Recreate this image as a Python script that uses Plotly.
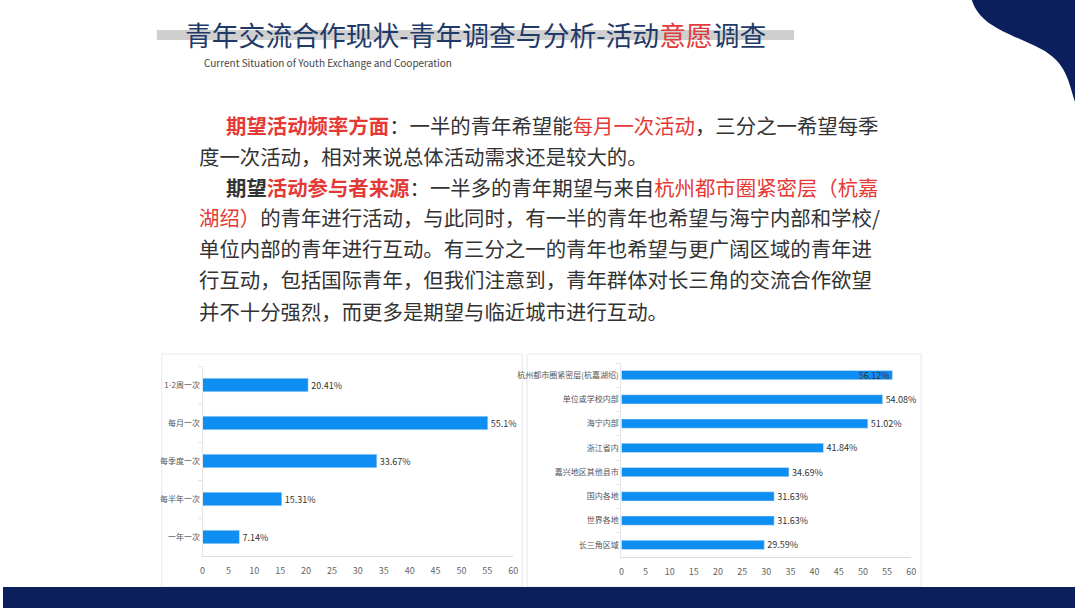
import plotly.graph_objects as go

# left chart: expected activity frequency
freq_labels = ['1-2周一次', '每月一次', '每季度一次', '每半年一次', '一年一次']
freq_values = [20.41, 55.1, 33.67, 15.31, 7.14]

# right chart: expected participant sources
src_labels = ['杭州都市圈紧密层(杭嘉湖绍)', '单位或学校内部', '海宁内部', '浙江省内',
              '嘉兴地区其他县市', '国内各地', '世界各地', '长三角区域']
src_values = [56.12, 54.08, 51.02, 41.84, 34.69, 31.63, 31.63, 29.59]

x_ticks = [0, 5, 10, 15, 20, 25, 30, 35, 40, 45, 50, 55, 60]

W, H = 1080, 608
FONT = 'Noto Sans CJK SC'
BAR = '#0f8ef2'
NAVY = '#0b1f5c'
RED = '#e53935'


def px(x):
    return x / W


def py(y):
    return 1 - y / H


fig = go.Figure()

fig.add_trace(go.Bar(
    y=freq_labels, x=freq_values, orientation='h', width=0.36,
    marker=dict(color=BAR), text=[f'{v}%' for v in freq_values],
    textposition='outside', constraintext='none',
    textfont=dict(size=9, color='#333333', family=FONT),
    cliponaxis=False, xaxis='x', yaxis='y', hoverinfo='skip'))

src_pos = ['inside'] + ['outside'] * (len(src_values) - 1)
fig.add_trace(go.Bar(
    y=src_labels, x=src_values, orientation='h', width=0.38,
    marker=dict(color=BAR), text=[f'{v}%' for v in src_values],
    textposition=src_pos, insidetextanchor='end', constraintext='none',
    insidetextfont=dict(size=9, color='#333333', family=FONT),
    outsidetextfont=dict(size=9, color='#333333', family=FONT),
    cliponaxis=False, xaxis='x2', yaxis='y2', hoverinfo='skip'))

xax = dict(range=[0, 60], tickvals=x_ticks, showgrid=False, zeroline=False,
           showline=True, linecolor='#d9dde3', linewidth=1,
           ticks='outside', ticklen=6, tickcolor='rgba(0,0,0,0)',
           tickfont=dict(size=9, color='#666666', family=FONT), fixedrange=True)
yax = dict(autorange='reversed', showgrid=False, zeroline=False,
           showline=True, linecolor='#e3e6ea', linewidth=1,
           ticks='outside', ticklen=4, tickcolor='#e3e6ea', tickson='boundaries',
           tickfont=dict(size=8, color='#555555', family=FONT), fixedrange=True)

shapes = [
    # panels
    dict(type='rect', xref='paper', yref='paper', x0=px(160), x1=px(523), y0=py(587), y1=py(354),
         line=dict(color='#e6e8ec', width=1), fillcolor='white', layer='below'),
    dict(type='rect', xref='paper', yref='paper', x0=px(528), x1=px(925), y0=py(587), y1=py(354),
         line=dict(color='#e6e8ec', width=1), fillcolor='white', layer='below'),
    # title grey band
    dict(type='rect', xref='paper', yref='paper', x0=px(155), x1=px(797), y0=py(40), y1=py(30),
         line=dict(width=0), fillcolor='#cfcfcf', layer='below'),
    # bottom navy bar
    dict(type='rect', xref='paper', yref='paper', x0=0, x1=1, y0=0, y1=py(587),
         line=dict(width=0), fillcolor=NAVY),
]

path = f'M {px(976)},{py(0)} '
path += f'C {px(984)},{py(25)} {px(1010)},{py(32)} {px(1040)},{py(46)} '
path += f'S {px(1072)},{py(76)} {px(1080)},{py(102)} '
path += 'L 1,1 Z'
shapes.append(dict(type='path', xref='paper', yref='paper', path=path,
                   fillcolor=NAVY, line=dict(width=0)))

annotations = [
    dict(text='青年交流合作现状-青年调查与分析-活动<span style="color:#e23b3b">意愿</span>调查',
         x=px(181), y=py(35), xanchor='left', yanchor='middle',
         font=dict(size=26.8, color='#1f3a68', family=FONT)),
    dict(text='Current Situation of Youth Exchange and Cooperation',
         x=px(200), y=py(62), xanchor='left', yanchor='middle',
         font=dict(size=10, color='#444444', family=FONT)),
]

para = [
    (223, f'<b><span style="color:{RED}">期望活动频率方面</span></b>：一半的青年希望能'
          f'<span style="color:{RED}">每月一次活动</span>，三分之一希望每季'),
    (195, '度一次活动，相对来说总体活动需求还是较大的。'),
    (223, f'<b>期望<span style="color:{RED}">活动参与者来源</span></b>：一半多的青年期望与来自'
          f'<span style="color:{RED}">杭州都市圈紧密层（杭嘉</span>'),
    (195, f'<span style="color:{RED}">湖绍）</span>的青年进行活动，与此同时，有一半的青年也希望与海宁内部和学校/'),
    (195, '单位内部的青年进行互动。有三分之一的青年也希望与更广阔区域的青年进'),
    (195, '行互动，包括国际青年，但我们注意到，青年群体对长三角的交流合作欲望'),
    (195, '并不十分强烈，而更多是期望与临近城市进行互动。'),
]
line_y = [125, 156, 187, 217, 248, 279, 311]
for (x0, txt), yy in zip(para, line_y):
    annotations.append(dict(text=txt, x=px(x0), y=py(yy), xanchor='left', yanchor='middle',
                            font=dict(size=20.4, color='#333333', family=FONT)))

for a in annotations:
    a.update(xref='paper', yref='paper', showarrow=False)

fig.update_layout(
    width=W, height=H, margin=dict(l=0, r=0, t=0, b=0),
    paper_bgcolor='white', plot_bgcolor='rgba(0,0,0,0)', showlegend=False,
    font=dict(family=FONT),
    xaxis=dict(domain=[px(201), px(514)], anchor='y', **xax),
    yaxis=dict(domain=[py(556), py(366)], anchor='x', **yax),
    xaxis2=dict(domain=[px(623), px(915)], anchor='y2', **xax),
    yaxis2=dict(domain=[py(557), py(363)], anchor='x2', **yax),
    shapes=shapes, annotations=annotations,
)

fig.write_html('out.html', config={'displayModeBar': False},
               post_script="document.body.style.margin='0';"
                           "document.body.style.overflow='hidden';"
                           "document.documentElement.style.overflow='hidden';")
